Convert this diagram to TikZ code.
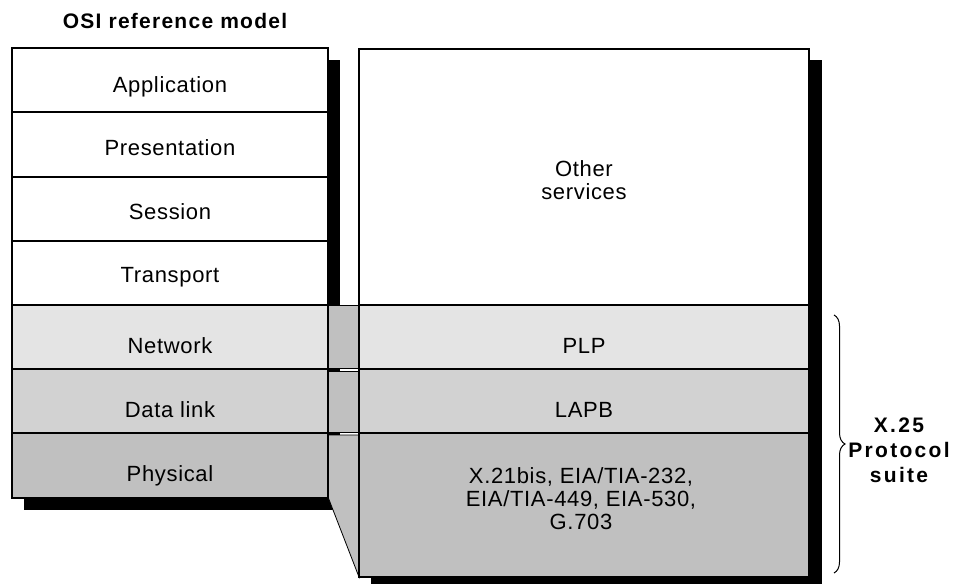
\documentclass[tikz,border=0pt]{standalone}
\usepackage{fontspec}
\setmainfont{Liberation Sans}[LetterSpace=3]
\newfontfamily\headfont[LetterSpace=6]{Liberation Sans}
\newfontfamily\suitefont[LetterSpace=11]{Liberation Sans}
\usepackage{tikz}
\usetikzlibrary{positioning,calc,decorations.pathreplacing}
\definecolor{netgray}{HTML}{E4E4E4}
\definecolor{linkgray}{HTML}{D2D2D2}
\definecolor{physgray}{HTML}{C0C0C0}
\tikzset{
  lbl/.style={font=\fontsize{22}{23}\selectfont, anchor=base, inner sep=0pt},
  mlbl/.style={font=\fontsize{22}{23}\selectfont, align=center, inner sep=0pt},
  blbl/.style={font=\suitefont\bfseries\fontsize{21}{25}\selectfont, align=center, inner sep=0pt},
  box/.style={draw=black, line width=1.1pt},
  gapbox/.style={draw=black, line width=0.8pt, fill=physgray},
}

\begin{document}
\begin{tikzpicture}[x=1pt,y=-1pt]
\useasboundingbox (0,0) rectangle (958,584);
\fill (24,60) rectangle (340,510);
\fill (371,60) rectangle (822,584);
\draw[gapbox] (328,305) rectangle (359,368);
\draw[gapbox] (328,371) rectangle (359,432);
\draw[gapbox] (328,435) -- (359,435) -- (359,577) -- (328,497) -- cycle;
\draw[box,fill=white] (12,48) rectangle (328,112);
\draw[box,fill=white] (12,112) rectangle (328,177);
\draw[box,fill=white] (12,177) rectangle (328,241);
\draw[box,fill=white] (12,241) rectangle (328,305);
\draw[box,fill=netgray] (12,305) rectangle (328,369);
\draw[box,fill=linkgray] (12,369) rectangle (328,433);
\draw[box,fill=physgray] (12,433) rectangle (328,498);
\draw[box,fill=white] (359,49) rectangle (809,305);
\draw[box,fill=netgray] (359,305) rectangle (809,369);
\draw[box,fill=linkgray] (359,369) rectangle (809,433);
\draw[box,fill=physgray] (359,433) rectangle (809,577);
\node[lbl,font=\headfont\bfseries\fontsize{21}{25}\selectfont] (osi) at (175,28) {OSI reference model};
\node[lbl] (app) at (170,92) {Application};
\node[lbl] (pres) at (170,155) {Presentation};
\node[lbl] (sess) at (170,219) {Session};
\node[lbl] (trans) at (170,282) {Transport};
\node[lbl] (net) at (170,353) {Network};
\node[lbl] (dlink) at (170,417) {Data link};
\node[lbl] (phys) at (170,481) {Physical};
\node[mlbl] (other) at (584,180) {Other\\services};
\node[lbl] (plp) at (584,353) {PLP};
\node[lbl] (lapb) at (584,417) {LAPB};
\node[mlbl] (x21) at (581,499) {X.21bis, EIA/TIA-232,\\EIA/TIA-449, EIA-530,\\G.703};
\coordinate (bracetop) at (834,315);
\coordinate (bracebot) at (834,573);
\draw[line width=1pt,decorate,decoration={brace,amplitude=11pt}] (bracetop) -- (bracebot);
\node[blbl] (suite) at (899,450) {X.25\\Protocol\\suite};
\end{tikzpicture}
\end{document}
